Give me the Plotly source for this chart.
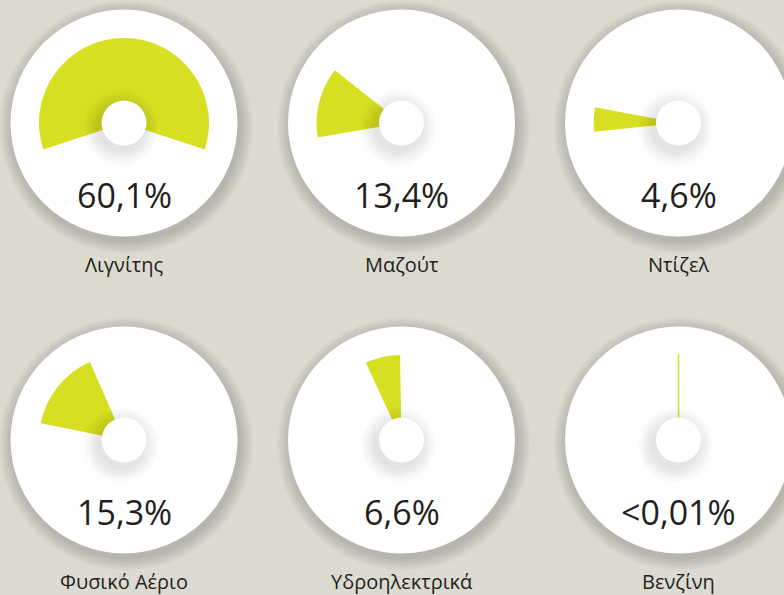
import plotly.graph_objects as go

# ---- data ----
labels = ["Λιγνίτης", "Μαζούτ", "Ντίζελ", "Φυσικό Αέριο", "Υδροηλεκτρικά", "Βενζίνη"]
shares = [60.1, 13.4, 4.6, 15.3, 6.6, 0.01]          # percent
share_text = ["60,1%", "13,4%", "4,6%", "15,3%", "6,6%", "<0,01%"]

# ---- layout / style ----
W, H = 784, 595
BG = "#dddbcf"
WEDGE = "#d6df21"
TEXT = "#231f20"
FONT = "Open Sans"
centers = [(124, 123), (401.5, 123), (678.5, 123),
           (124, 440), (401.5, 440), (678.5, 440)]
start_angles = [-18.2, 141.6, 169.3, 113.6, 91.0, 90.0]   # orientation of each wedge (deg, ccw from east)
R_BIG = 113.5
R_SMALL = 22.5
R_WEDGE = 85
POLAR_HALF = 90


def px(x):
    return x / W


def py(y):
    return 1 - y / H


fig = go.Figure()
shapes = []
annotations = []

for i, (lab, val, txt, (cx, cy), st) in enumerate(zip(labels, shares, share_text, centers, start_angles)):
    pname = "polar" if i == 0 else f"polar{i + 1}"
    width = val * 3.6
    fig.add_trace(go.Barpolar(
        r=[R_WEDGE], theta=[st + width / 2], width=[width],
        marker=dict(color=WEDGE, line=dict(color=WEDGE, width=1.5 if width < 1 else 0)),
        subplot=pname, showlegend=False, hoverinfo="skip",
    ))
    fig.update_layout({pname: dict(
        domain=dict(x=[px(cx - POLAR_HALF), px(cx + POLAR_HALF)],
                    y=[py(cy + POLAR_HALF), py(cy - POLAR_HALF)]),
        bgcolor="rgba(0,0,0,0)",
        radialaxis=dict(visible=False, range=[0, POLAR_HALF]),
        angularaxis=dict(visible=False, rotation=0, direction="counterclockwise"),
        barmode="overlay",
    )})

    # big circle shadow
    for k in range(1, 12):
        s = 1.2 * k
        ox, oy = 2, 4
        shapes.append(dict(type="circle", xref="paper", yref="paper", layer="below",
                           x0=px(cx + ox - R_BIG - s), x1=px(cx + ox + R_BIG + s),
                           y0=py(cy + oy + R_BIG + s), y1=py(cy + oy - R_BIG - s),
                           fillcolor="rgba(70,65,40,0.018)", line=dict(width=0)))
    shapes.append(dict(type="circle", xref="paper", yref="paper", layer="below",
                       x0=px(cx - R_BIG), x1=px(cx + R_BIG),
                       y0=py(cy + R_BIG), y1=py(cy - R_BIG),
                       fillcolor="white", line=dict(width=0)))
    # small circle shadow
    for k in range(1, 10):
        s = 1.7 * k
        ox, oy = -3, 5
        shapes.append(dict(type="circle", xref="paper", yref="paper", layer="above",
                           x0=px(cx + ox - R_SMALL - s), x1=px(cx + ox + R_SMALL + s),
                           y0=py(cy + oy + R_SMALL + s), y1=py(cy + oy - R_SMALL - s),
                           fillcolor="rgba(0,0,0,0.011)", line=dict(width=0)))
    shapes.append(dict(type="circle", xref="paper", yref="paper", layer="above",
                       x0=px(cx - R_SMALL), x1=px(cx + R_SMALL),
                       y0=py(cy + R_SMALL), y1=py(cy - R_SMALL),
                       fillcolor="white", line=dict(width=0)))

    annotations.append(dict(x=px(cx), y=py(cy + 72), xref="paper", yref="paper",
                            text=txt, showarrow=False, xanchor="center", yanchor="middle",
                            font=dict(family=FONT, size=34, color=TEXT)))
    annotations.append(dict(x=px(cx), y=py(cy + 141), xref="paper", yref="paper",
                            text=lab, showarrow=False, xanchor="center", yanchor="middle",
                            font=dict(family=FONT, size=20, color=TEXT)))

fig.update_layout(
    width=W, height=H,
    margin=dict(l=0, r=0, t=0, b=0),
    paper_bgcolor=BG, plot_bgcolor=BG,
    shapes=shapes, annotations=annotations,
    showlegend=False,
)

fig.write_html("out.html", config={"displayModeBar": False},
               post_script="document.body.style.margin='0';document.body.style.background='#dddbcf';")
